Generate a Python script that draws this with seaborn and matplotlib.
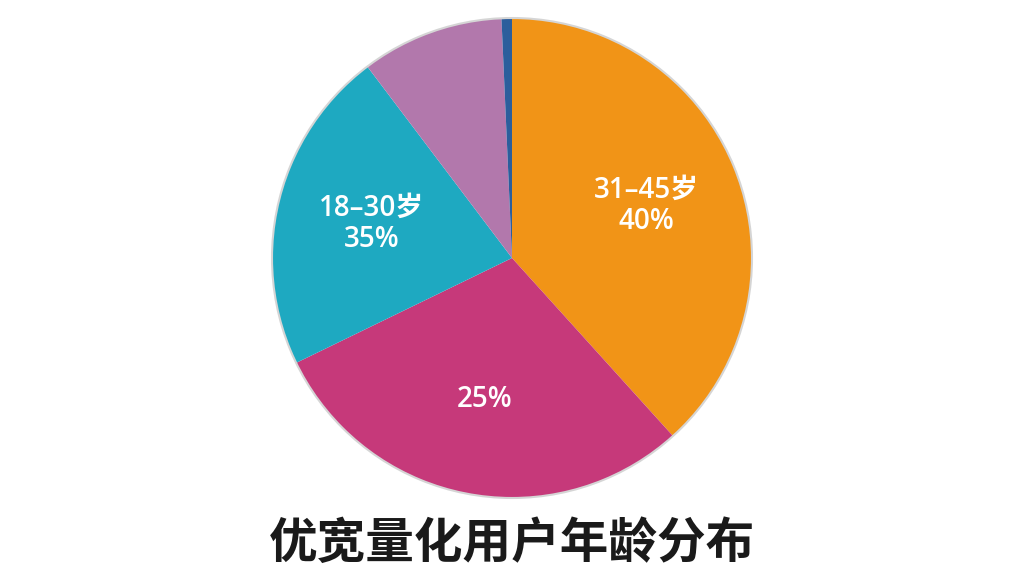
import seaborn as sns
import matplotlib.pyplot as plt

# age groups, slice sizes as drawn, and the text printed on each slice
groups = ["31-45岁", "其他", "18-30岁", "紫", "蓝"]
shares = [38.3, 29.5, 21.9, 9.6, 0.7]
slice_text = ["31–45岁\n40%", "25%", "18–30岁\n35%", "", ""]
colors = ["#F19417", "#C6397A", "#1EA9C1", "#B278AC", "#2C5E9C"]
title = "优宽量化用户年龄分布"

sns.set_theme(style="white")
plt.rcParams['font.family'] = ['Noto Sans CJK SC', 'DejaVu Sans']

fig = plt.figure(figsize=(10.24, 5.76), dpi=100)
ax = fig.add_axes([0.5 - 240 / 1024, 78 / 576, 480 / 1024, 480 / 576])

wedges, texts = ax.pie(shares, colors=colors, startangle=90, counterclock=False,
                       labels=slice_text, labeldistance=0.6, radius=1,
                       wedgeprops=dict(linewidth=0),
                       textprops=dict(color="white", fontsize=20, ha="center",
                                      va="center", linespacing=1.1,
                                      family=['Open Sans', 'Noto Sans CJK SC'],
                                      fontweight="semibold"))
# faint rim like the reference
ax.pie([1], colors=["none"], radius=1.0,
       wedgeprops=dict(edgecolor="#d5d5d5", linewidth=1.5, fill=False))
ax.set_xlim(-1.0, 1.0)
ax.set_ylim(-1.0, 1.0)
ax.set_aspect("equal")
ax.axis("off")

fig.text(0.5, 0.057, title, ha="center", va="center", fontsize=35,
         fontweight="bold", color="#1a1a1a")

fig.savefig("out.png", dpi=100, facecolor="white")
